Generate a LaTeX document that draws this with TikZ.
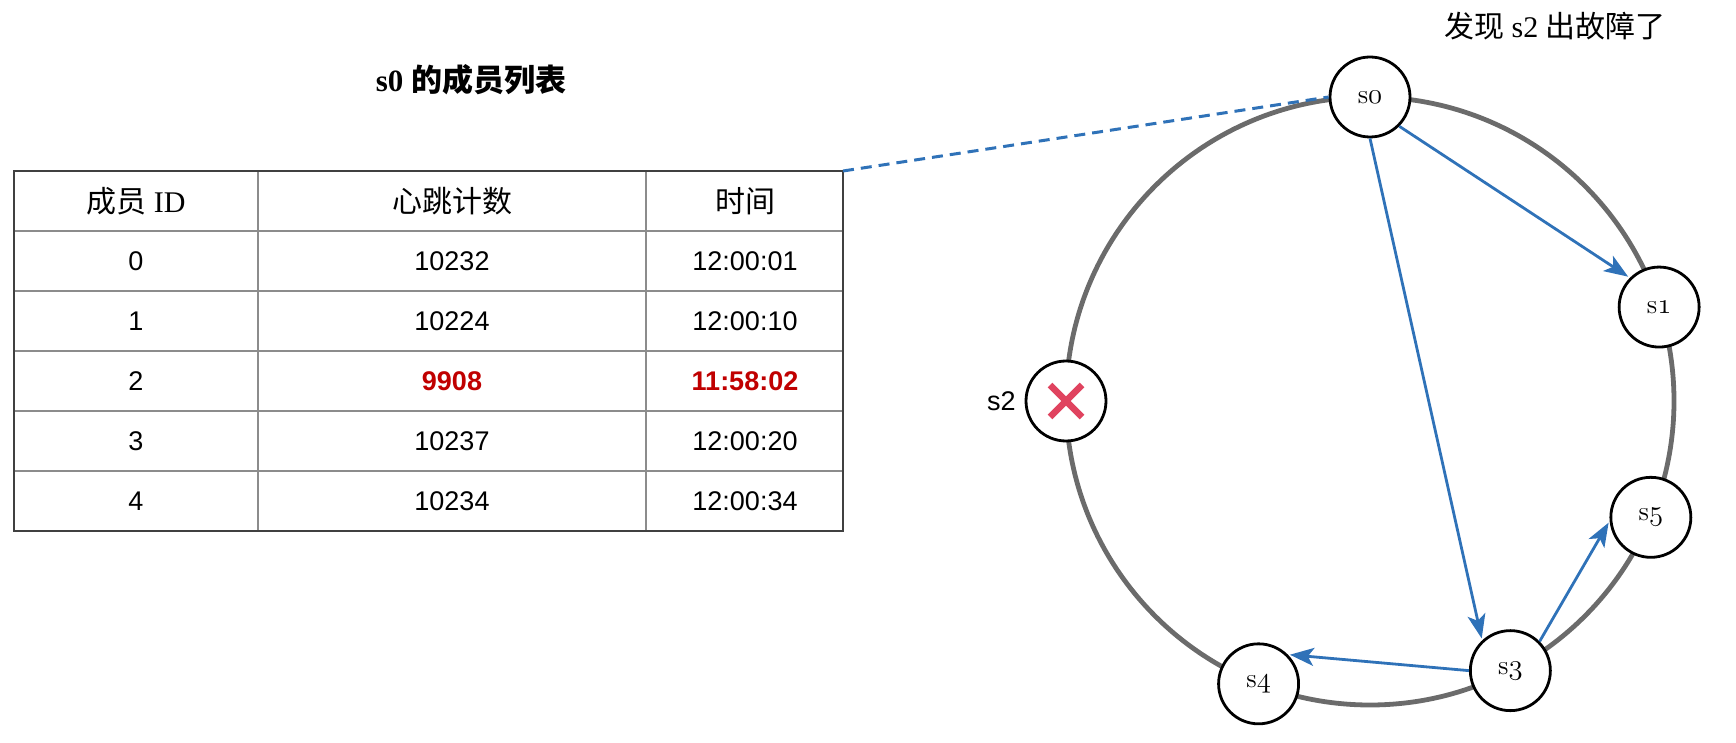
\documentclass[tikz,border=0pt]{standalone}
\usepackage{fontspec}
\newfontfamily\cjk{Noto Sans CJK SC}
\newfontfamily\arialfont{Liberation Sans}
\newfontfamily\timesfont{Liberation Serif}
\usetikzlibrary{arrows.meta}
\definecolor{ringgray}{HTML}{6B6B6B}
\definecolor{linkblue}{HTML}{2F72B8}
\definecolor{downred}{HTML}{C00000}
\definecolor{crossred}{HTML}{E0435F}
\newcommand\osnum[1]{{\usefont{OML}{cmm}{m}{it}#1}}

\begin{document}
\begin{tikzpicture}
  [x=0.5pt,y=-0.5pt,
   srv/.style={circle,draw=black,line width=1.4pt,fill=white,minimum size=40pt,inner sep=0pt,
     font=\fontsize{13.5}{15}\selectfont},
   cell/.style={font=\arialfont\fontsize{13.5}{15}\selectfont},
   badcell/.style={font=\arialfont\bfseries\fontsize{13.5}{15}\selectfont,text=downred},
   head/.style={font=\timesfont\fontsize{15}{17}\selectfont},
   tabline/.style={draw=black!45,line width=0.8pt},
   link/.style={draw=linkblue,line width=1.4pt,-{Stealth[length=12pt,width=9pt,inset=3pt]},shorten >=1pt}]
  \useasboundingbox (0,0) rectangle (1736,743);

  % member list of s0
  \node[head,font=\timesfont\bfseries\fontsize{15.5}{17}\selectfont] (title) at (471,80) {s0 {\cjk 的成员列表}};
  \foreach \r in {1,...,5}
    \draw[tabline] (14,171+60*\r) -- (843,171+60*\r);
  \draw[tabline] (258,171) -- (258,531) (646,171) -- (646,531);
  \draw[draw=black!75,line width=1.1pt] (14,171) rectangle (843,531);
  \coordinate (tr) at (843,171);
  \node[head] (hid) at (136,201) {{\cjk 成员} ID};
  \node[head] (hhb) at (452,201) {\cjk 心跳计数};
  \node[head] (htm) at (745,201) {\cjk 时间};
  \foreach \id/\hb/\tm/\st in
  {0/10232/12:00:01/cell, 1/10224/12:00:10/cell, 2/9908/11:58:02/badcell,
   3/10237/12:00:20/cell, 4/10234/12:00:34/cell}
  {
    \node[cell] (id\id) at (136,261+60*\id) {\id};
    \node[\st] (hb\id) at (452,261+60*\id) {\hb};
    \node[\st] (tm\id) at (745,261+60*\id) {\tm};
  }

  % ring of servers
  \coordinate (ctr) at (1370,401);
  \draw[ringgray,line width=2.4pt] (ctr) circle (304);
  \foreach \n/\a in {0/-90, 1/-18, 3/62.5, 4/111.5, 5/22.5}
    \node[srv] (s\n) at ([shift={(\a:304)}]ctr) {s\osnum{\n}};
  \node[srv,label={[font=\arialfont\fontsize{13.5}{15}\selectfont,label distance=1pt]left:s2}]
    (s2) at ([shift={(180:304)}]ctr) {};
  \draw[crossred,line width=3.2pt]
    ([shift={(-16,-16)}]s2.center) -- ([shift={(16,16)}]s2.center)
    ([shift={(-16,16)}]s2.center) -- ([shift={(16,-16)}]s2.center);
  \node[head] (note) at (1555,26) {{\cjk 发现} s2 {\cjk 出故障了}};

  \draw[draw=linkblue,line width=1.5pt,dash pattern=on 5.5pt off 3.5pt] (tr) -- (s0.west);
  \draw[link] (s0.south east) -- (s1.north west);
  \draw[link] (s0.south) -- (s3.133);
  \draw[link] (s3.west) -- (s4.north east);
  \draw[link] (s3.north east) -- (s5.185);
\end{tikzpicture}
\end{document}
